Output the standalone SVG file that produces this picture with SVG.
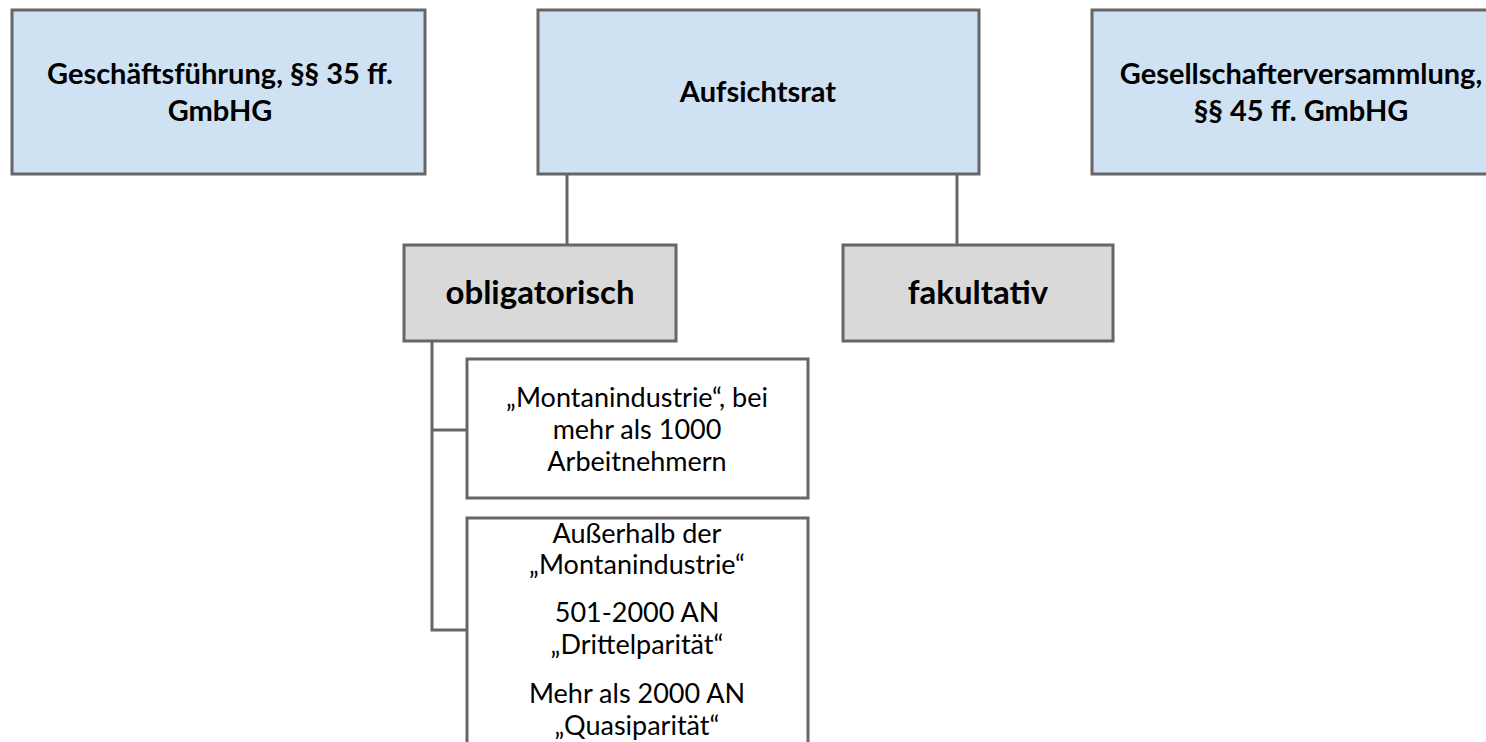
<svg xmlns="http://www.w3.org/2000/svg" width="1486" height="742" viewBox="0 0 1486 742">
<style>
.blue{fill:#cfe2f3;stroke:#666;stroke-width:3}
.gray{fill:#d9d9d9;stroke:#666;stroke-width:3}
.white{fill:#fff;stroke:#666;stroke-width:3}
.b{font-family:Lato,"Open Sans",sans-serif;font-weight:bold;font-size:29px;fill:#000;text-anchor:middle}
.bb{font-family:Lato,"Open Sans",sans-serif;font-weight:bold;font-size:33px;fill:#000;text-anchor:middle}
.r{font-family:Lato,"Open Sans",sans-serif;font-size:27px;fill:#000;text-anchor:middle}
.c{fill:none;stroke:#666;stroke-width:3}
</style>
<rect width="1486" height="742" fill="#fff"/>
<g id="connectors">
<path class="c" d="M567 174V246"/>
<path class="c" d="M957 174V246"/>
<path class="c" d="M432 341V630H467"/>
<path class="c" d="M432 430H467"/>
</g>
<g id="geschaeftsfuehrung">
<rect class="blue" x="12" y="10" width="413" height="164"/>
<text class="b" x="220" y="84">Geschäftsführung, §§ 35 ff.</text>
<text class="b" x="220" y="121">GmbHG</text>
</g>
<g id="aufsichtsrat">
<rect class="blue" x="538" y="10" width="441" height="164"/>
<text class="b" x="758" y="102">Aufsichtsrat</text>
</g>
<g id="gesellschafterversammlung">
<rect class="blue" x="1092" y="10" width="418" height="164"/>
<text class="b" x="1301" y="84">Gesellschafterversammlung,</text>
<text class="b" x="1301" y="121">§§ 45 ff. GmbHG</text>
</g>
<g id="obligatorisch">
<rect class="gray" x="404" y="245" width="272" height="96"/>
<text class="bb" x="540" y="304">obligatorisch</text>
</g>
<g id="fakultativ">
<rect class="gray" x="843" y="245" width="270" height="96"/>
<text class="bb" x="978" y="304">fakultativ</text>
</g>
<g id="montan">
<rect class="white" x="467" y="359" width="341" height="139"/>
<text class="r" x="637" y="407">„Montanindustrie“, bei</text>
<text class="r" x="637" y="439">mehr als 1000</text>
<text class="r" x="637" y="471">Arbeitnehmern</text>
</g>
<g id="ausserhalb">
<rect class="white" x="467" y="518" width="341" height="240"/>
<text class="r" x="637" y="543">Außerhalb der</text>
<text class="r" x="637" y="574">„Montanindustrie“</text>
<text class="r" x="637" y="622">501-2000 AN</text>
<text class="r" x="637" y="654">„Drittelparität“</text>
<text class="r" x="637" y="703">Mehr als 2000 AN</text>
<text class="r" x="637" y="735">„Quasiparität“</text>
</g>
</svg>
